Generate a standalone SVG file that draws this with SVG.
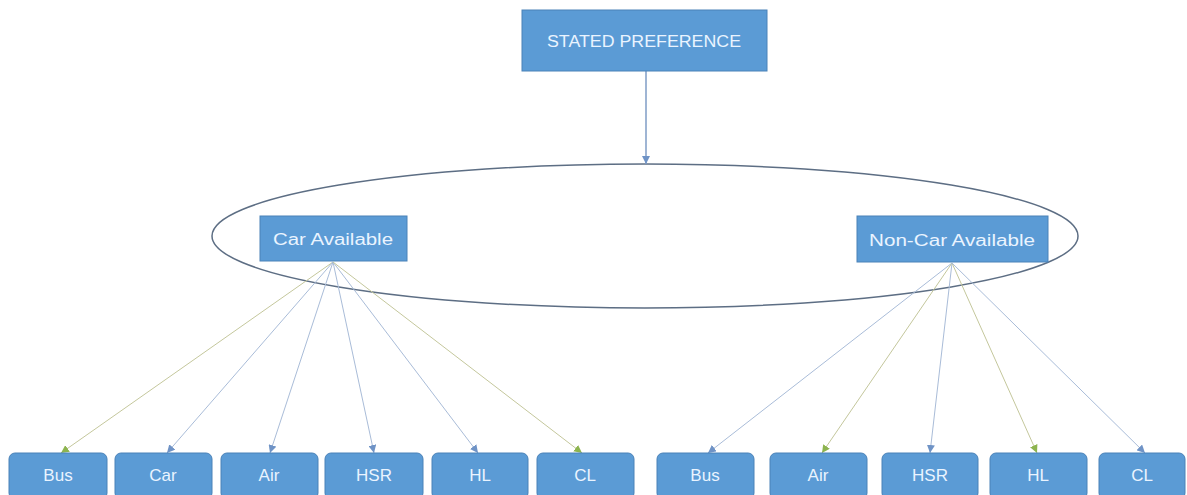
<svg xmlns="http://www.w3.org/2000/svg" width="1187" height="495" viewBox="0 0 1187 495">
  <style>
    .box { fill: #5b9bd5; stroke: #4a82b8; stroke-width: 1; }
    .lbl { font-family: "Liberation Sans", Arial, sans-serif; fill: #eaf4ff; text-anchor: middle; dominant-baseline: central; }
    .big { font-size: 16px; }
    .leaf { font-size: 17px; }
    .g { stroke: #c4c79c; stroke-width: 1; fill: none; }
    .b { stroke: #a9bcd8; stroke-width: 1; fill: none; }
  </style>
  <defs>
    <marker id="ahB" markerUnits="userSpaceOnUse" markerWidth="9" markerHeight="8" refX="8" refY="4" orient="auto">
      <path d="M0,0 L8,4 L0,8 Z" fill="#6f93c6"/>
    </marker>
    <marker id="ahG" markerUnits="userSpaceOnUse" markerWidth="9" markerHeight="8" refX="8" refY="4" orient="auto">
      <path d="M0,0 L8,4 L0,8 Z" fill="#8db44f"/>
    </marker>
  </defs>
  <rect width="1187" height="495" fill="#ffffff"/>

  <!-- grouping ellipse around the two availability segments -->
  <ellipse id="segment-ring" cx="645" cy="236" rx="433" ry="72" fill="none" stroke="#5d6e84" stroke-width="1.5"/>

  <g id="connectors">
    <line x1="646" y1="71" x2="646" y2="164" stroke="#7f9cc6" stroke-width="1.5" marker-end="url(#ahB)"/>
    <!-- car available branch -->
    <line class="g" x1="333" y1="262" x2="61" y2="453" marker-end="url(#ahG)"/>
    <line class="b" x1="333" y1="262" x2="167" y2="453" stroke="#b3b8c6" marker-end="url(#ahB)"/>
    <line class="b" x1="333" y1="262" x2="270" y2="453" marker-end="url(#ahB)"/>
    <line class="b" x1="333" y1="262" x2="374" y2="453" marker-end="url(#ahB)"/>
    <line class="b" x1="333" y1="262" x2="478" y2="453" marker-end="url(#ahB)"/>
    <line class="g" x1="333" y1="262" x2="582" y2="453" marker-end="url(#ahG)"/>
    <!-- non-car available branch -->
    <line class="b" x1="952" y1="263" x2="708" y2="453" marker-end="url(#ahB)"/>
    <line class="g" x1="952" y1="263" x2="822" y2="453" marker-end="url(#ahG)"/>
    <line class="b" x1="952" y1="263" x2="930" y2="453" marker-end="url(#ahB)"/>
    <line class="g" x1="952" y1="263" x2="1037" y2="453" marker-end="url(#ahG)"/>
    <line class="b" x1="952" y1="263" x2="1145" y2="453" marker-end="url(#ahB)"/>
  </g>

  <g id="stated-preference">
    <rect class="box" x="522" y="10" width="245" height="61"/>
    <text class="lbl big" x="644" y="41" textLength="194" lengthAdjust="spacingAndGlyphs">STATED PREFERENCE</text>
  </g>
  <g id="car-available">
    <rect class="box" x="260" y="216" width="147" height="45"/>
    <text class="lbl big" x="333" y="239" textLength="120" lengthAdjust="spacingAndGlyphs">Car Available</text>
  </g>
  <g id="non-car-available">
    <rect class="box" x="857" y="216" width="191" height="46"/>
    <text class="lbl big" x="952" y="240" textLength="166" lengthAdjust="spacingAndGlyphs">Non-Car Available</text>
  </g>

  <g id="ca-bus"><rect class="box" x="9" y="453" width="98" height="46" rx="6"/><text class="lbl leaf" x="58" y="475">Bus</text></g>
  <g id="ca-car"><rect class="box" x="115" y="453" width="97" height="46" rx="6"/><text class="lbl leaf" x="163" y="475">Car</text></g>
  <g id="ca-air"><rect class="box" x="221" y="453" width="97" height="46" rx="6"/><text class="lbl leaf" x="269" y="475">Air</text></g>
  <g id="ca-hsr"><rect class="box" x="325" y="453" width="98" height="46" rx="6"/><text class="lbl leaf" x="374" y="475">HSR</text></g>
  <g id="ca-hl"><rect class="box" x="432" y="453" width="96" height="46" rx="6"/><text class="lbl leaf" x="480" y="475">HL</text></g>
  <g id="ca-cl"><rect class="box" x="537" y="453" width="97" height="46" rx="6"/><text class="lbl leaf" x="585" y="475">CL</text></g>

  <g id="nca-bus"><rect class="box" x="657" y="453" width="97" height="46" rx="6"/><text class="lbl leaf" x="705" y="475">Bus</text></g>
  <g id="nca-air"><rect class="box" x="770" y="453" width="97" height="46" rx="6"/><text class="lbl leaf" x="818" y="475">Air</text></g>
  <g id="nca-hsr"><rect class="box" x="882" y="453" width="96" height="46" rx="6"/><text class="lbl leaf" x="930" y="475">HSR</text></g>
  <g id="nca-hl"><rect class="box" x="990" y="453" width="97" height="46" rx="6"/><text class="lbl leaf" x="1038" y="475">HL</text></g>
  <g id="nca-cl"><rect class="box" x="1099" y="453" width="86" height="46" rx="6"/><text class="lbl leaf" x="1142" y="475">CL</text></g>
</svg>
